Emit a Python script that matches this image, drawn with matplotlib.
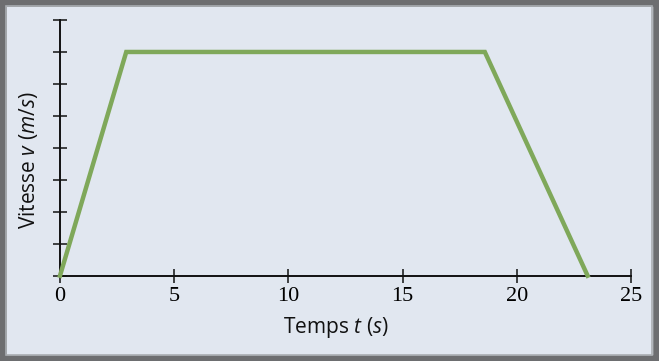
import numpy as np
import matplotlib.pyplot as plt
from matplotlib.patches import Rectangle

# donnees
temps = [0, 2.9, 18.6, 23.1]
vitesse = [0, 7, 7, 0]
xticks = [0, 5, 10, 15, 20, 25]
yticks = np.arange(0, 9)

plt.rcParams['font.family'] = 'Open Sans'
plt.rcParams['mathtext.fontset'] = 'custom'
plt.rcParams['mathtext.rm'] = 'Open Sans'
plt.rcParams['mathtext.it'] = 'Open Sans:italic'

fond = '#e1e7f0'
fig = plt.figure(figsize=(6.59, 3.61), dpi=100, facecolor=fond)

# cadre gris
fig.patches.append(Rectangle((0, 0), 1, 1, transform=fig.transFigure,
                             fill=False, edgecolor='#6d6e70', linewidth=9))
fig.patches.append(Rectangle((6/659, 6/361), 1 - 13/659, 1 - 12/361,
                             transform=fig.transFigure, fill=False,
                             edgecolor='#a9adb1', linewidth=1.2))

ax = fig.add_axes([60/659, 85.3/361, 571/659, 255.7/361])
ax.set_facecolor(fond)
ax.plot(temps, vitesse, color='#7fa85a', linewidth=3.2, solid_joinstyle='miter',
        clip_on=False, zorder=3)

ax.set_xlim(0, 25)
ax.set_ylim(0, 8)
ax.set_xticks(xticks)
ax.set_yticks(yticks)
ax.set_yticklabels([])
ax.set_xticklabels([str(t) for t in xticks], family='Liberation Serif', fontsize=16)
ax.tick_params(direction='inout', length=10, width=1.1, color='#111111', pad=3)
for s in ['top', 'right']:
    ax.spines[s].set_visible(False)
for s in ['left', 'bottom']:
    ax.spines[s].set_linewidth(1.4)
    ax.spines[s].set_color('#111111')

fig.text(336/659, 1 - 327/361, r'Temps $t\ (s)$', ha='center', va='center',
         fontsize=15, color='#111111')
fig.text(29/659, 1 - 160/361, r'Vitesse $v\ (m/s)$', ha='center', va='center',
         rotation=90, fontsize=15, color='#111111')

fig.savefig('out.png', dpi=100, facecolor=fond)
